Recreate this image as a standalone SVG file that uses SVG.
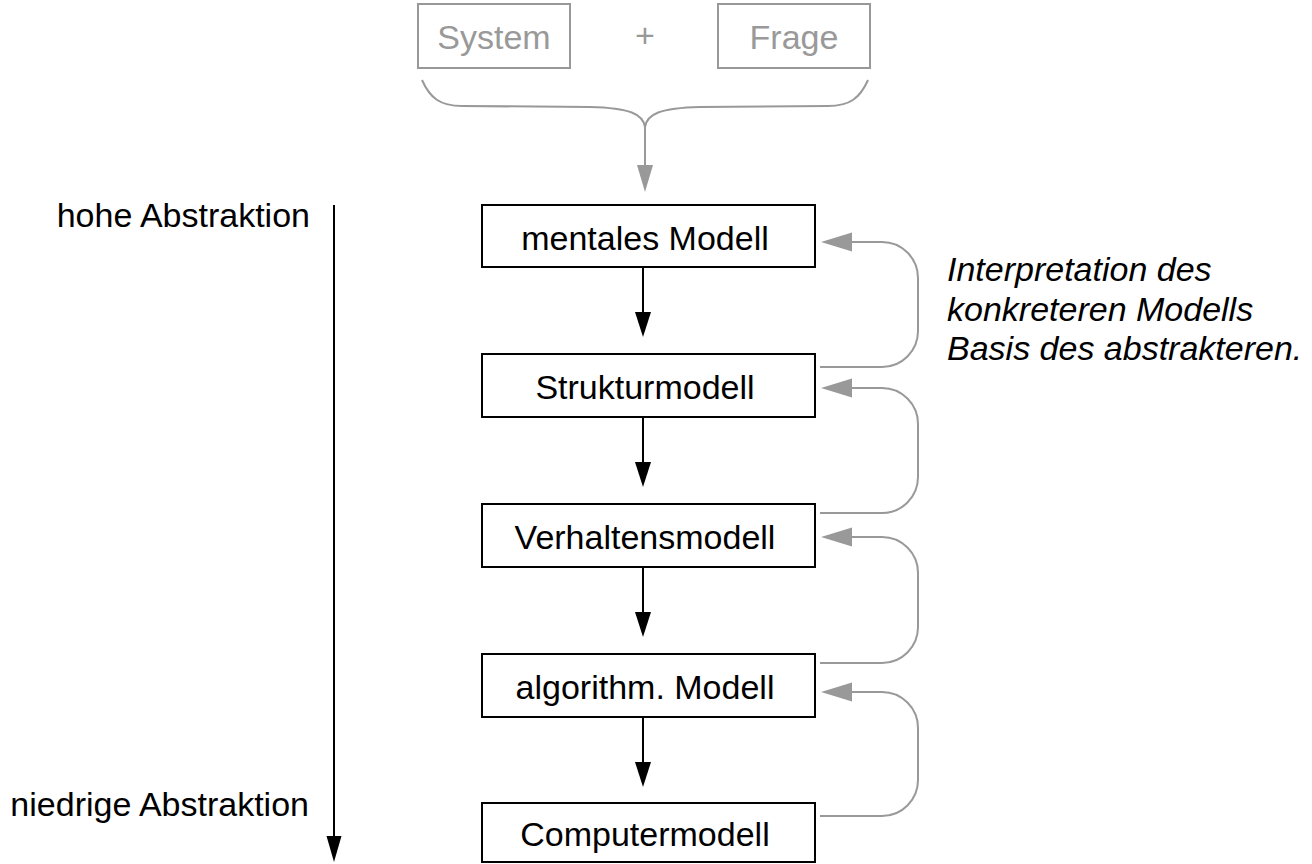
<svg xmlns="http://www.w3.org/2000/svg" width="1312" height="864" viewBox="0 0 1312 864">
  <style>
    text { font-family: "Liberation Sans", Arial, Helvetica, sans-serif; font-size: 34px; }
    .lbl { fill: #000; text-anchor: middle; }
    .glbl { fill: #999; text-anchor: middle; }
    .side { fill: #000; text-anchor: end; }
    .note { fill: #000; font-style: italic; }
    .box { fill: #fff; stroke: #000; stroke-width: 2; }
    .gbox { fill: #fff; stroke: #999; stroke-width: 2; }
    .blk { fill: none; stroke: #000; stroke-width: 2; }
    .gry { fill: none; stroke: #999; stroke-width: 2; }
    .bhead { fill: #000; }
    .ghead { fill: #999; }
  </style>
  <rect width="1312" height="864" fill="#fff"/>

  <g id="system">
    <rect class="gbox" x="418" y="4" width="152" height="64"/>
    <text class="glbl" x="494" y="49">System</text>
  </g>
  <g id="plus">
    <text class="glbl" x="645" y="47">+</text>
  </g>
  <g id="frage">
    <rect class="gbox" x="718" y="4" width="152" height="64"/>
    <text class="glbl" x="794" y="49">Frage</text>
  </g>

  <g id="mentales">
    <rect class="box" x="482" y="205" width="333" height="62"/>
    <text class="lbl" x="645" y="250">mentales Modell</text>
  </g>
  <g id="struktur">
    <rect class="box" x="482" y="354" width="333" height="63"/>
    <text class="lbl" x="645" y="399">Strukturmodell</text>
  </g>
  <g id="verhalten">
    <rect class="box" x="482" y="504" width="333" height="63"/>
    <text class="lbl" x="645" y="549">Verhaltensmodell</text>
  </g>
  <g id="algorithm">
    <rect class="box" x="482" y="654" width="333" height="63"/>
    <text class="lbl" x="645" y="699">algorithm. Modell</text>
  </g>
  <g id="computer">
    <rect class="box" x="482" y="803" width="333" height="59"/>
    <text class="lbl" x="645" y="846">Computermodell</text>
  </g>

  <g id="abstraction-axis">
    <text class="side" x="310" y="227">hohe Abstraktion</text>
    <text class="side" x="309" y="816">niedrige Abstraktion</text>
  </g>

  <g id="note">
    <text class="note" x="947" y="281">Interpretation des</text>
    <text class="note" x="947" y="321">konkreteren Modells</text>
    <text class="note" x="947" y="360">Basis des abstrakteren.</text>
  </g>

  <g id="connectors">
    <!-- brace and input arrow -->
    <path class="gry" d="M 422 80 C 430 98, 440 106, 462 106 L 590 107 C 630 108, 643 114, 645 127 C 647 114, 660 108, 700 107 L 828 106 C 850 106, 860 98, 868 80"/>
    <line class="gry" x1="645" y1="127" x2="645" y2="168"/>
    <polygon class="ghead" points="637,165 653,165 645,192"/>

    <!-- abstraction axis -->
    <line class="blk" x1="334" y1="205" x2="334" y2="840"/>
    <polygon class="bhead" points="326.5,836 341.5,836 334,862"/>

    <!-- downward arrows -->
    <line class="blk" x1="643" y1="267" x2="643" y2="315"/>
    <polygon class="bhead" points="635,312 651,312 643,337"/>
    <line class="blk" x1="643" y1="417" x2="643" y2="465"/>
    <polygon class="bhead" points="635,462 651,462 643,487"/>
    <line class="blk" x1="643" y1="567" x2="643" y2="615"/>
    <polygon class="bhead" points="635,612 651,612 643,637"/>
    <line class="blk" x1="643" y1="717" x2="643" y2="765"/>
    <polygon class="bhead" points="635,762 651,762 643,787"/>

    <!-- feedback loops -->
    <path class="gry" d="M 820 367 H 882 A 36 36 0 0 0 918 331 V 278 A 36 36 0 0 0 882 242 H 850"/>
    <polygon class="ghead" points="821,242 852,232.5 852,251.5"/>
    <path class="gry" d="M 820 513 H 882 A 36 36 0 0 0 918 477 V 424 A 36 36 0 0 0 882 388 H 850"/>
    <polygon class="ghead" points="821,388 852,378.5 852,397.5"/>
    <path class="gry" d="M 820 663 H 882 A 36 36 0 0 0 918 627 V 573 A 36 36 0 0 0 882 537 H 850"/>
    <polygon class="ghead" points="821,537 852,527.5 852,546.5"/>
    <path class="gry" d="M 820 816 H 882 A 36 36 0 0 0 918 780 V 728 A 36 36 0 0 0 882 692 H 850"/>
    <polygon class="ghead" points="821,692 852,682.5 852,701.5"/>
  </g>
</svg>
